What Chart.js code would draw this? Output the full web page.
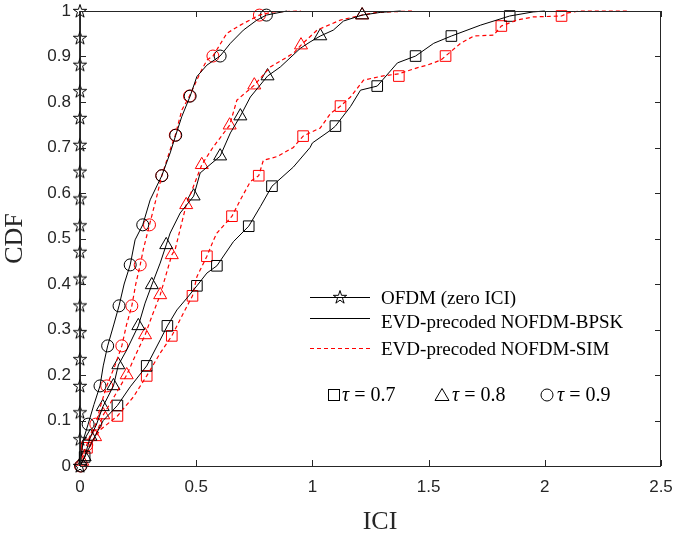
<!DOCTYPE html>
<html>
<head>
<meta charset="utf-8">
<script src="https://cdn.jsdelivr.net/npm/chart.js@4.4.0/dist/chart.umd.min.js"></script>
<style>
  html, body { margin: 0; padding: 0; background: #fff; }
</style>
</head>
<body>
<canvas id="cdf" width="673" height="535"></canvas>
<script>
// ----------------------------------------------------
//                 DATA
// ----------------------------------------------------
const xTicks = [0, 0.5, 1, 1.5, 2, 2.5];
const yTicks = [0, 0.1, 0.2, 0.3, 0.4, 0.5, 0.6, 0.7, 0.8, 0.9, 1];

// OFDM (zero ICI): vertical line at 0, star every 1/17
const ofdmY = [0, 0.059, 0.118, 0.176, 0.235, 0.294, 0.353, 0.412, 0.471, 0.529,
               0.588, 0.647, 0.706, 0.765, 0.824, 0.882, 0.941, 1];

// EVD-precoded NOFDM-BPSK (black, solid)
const bpsk07 = [[0,0],[0.02,0.02],[0.056,0.057],[0.1,0.1],[0.161,0.133],[0.216,0.174],[0.287,0.22],
  [0.345,0.277],[0.376,0.308],[0.417,0.343],[0.46,0.369],[0.503,0.396],[0.546,0.424],[0.589,0.44],
  [0.66,0.493],[0.726,0.527],[0.776,0.57],[0.826,0.615],[0.918,0.657],[0.99,0.7],[1.0,0.71],
  [1.078,0.738],[1.099,0.747],[1.164,0.79],[1.207,0.826],[1.279,0.835],[1.366,0.886],[1.444,0.901],
  [1.522,0.929],[1.598,0.945],[1.724,0.969],[1.849,0.989],[1.95,0.998],[2.0,1.0]];
const bpsk07Mk = [[0.02,0.02],[0.161,0.133],[0.287,0.22],[0.376,0.308],[0.503,0.396],[0.589,0.44],
  [0.726,0.527],[0.826,0.615],[1.099,0.747],[1.279,0.835],[1.444,0.901],[1.598,0.945],[1.849,0.989]];

const bpsk08 = [[0,0],[0.02,0.02],[0.045,0.065],[0.07,0.09],[0.098,0.13],[0.144,0.176],[0.165,0.222],
  [0.201,0.255],[0.251,0.308],[0.28,0.358],[0.309,0.398],[0.345,0.446],[0.371,0.486],[0.388,0.512],
  [0.431,0.556],[0.489,0.593],[0.517,0.644],[0.603,0.681],[0.647,0.732],[0.69,0.769],[0.733,0.811],
  [0.807,0.857],[0.862,0.877],[0.948,0.918],[0.99,0.932],[1.034,0.945],[1.09,0.958],[1.134,0.978],
  [1.214,0.991],[1.293,0.997],[1.38,1.0]];
const bpsk08Mk = [[0.02,0.02],[0.045,0.065],[0.098,0.13],[0.144,0.176],[0.165,0.222],[0.251,0.308],
  [0.309,0.398],[0.371,0.486],[0.489,0.593],[0.603,0.681],[0.69,0.769],[0.807,0.857],[1.034,0.945],[1.214,0.991]];

const bpsk09 = [[0,0],[0.005,0.02],[0.014,0.057],[0.035,0.092],[0.06,0.135],[0.086,0.176],[0.1,0.22],
  [0.119,0.264],[0.145,0.31],[0.168,0.352],[0.19,0.4],[0.216,0.442],[0.237,0.497],[0.27,0.53],
  [0.302,0.585],[0.352,0.638],[0.388,0.688],[0.412,0.727],[0.438,0.768],[0.474,0.813],[0.503,0.856],
  [0.546,0.881],[0.603,0.901],[0.647,0.929],[0.703,0.958],[0.761,0.98],[0.802,0.991],[0.89,1.0]];
const bpsk09Mk = [[0.004,0],[0.035,0.092],[0.086,0.176],[0.119,0.264],[0.168,0.352],[0.216,0.442],
  [0.27,0.53],[0.352,0.638],[0.412,0.727],[0.474,0.813],[0.603,0.901],[0.802,0.991]];

// EVD-precoded NOFDM-SIM (red, dashed)
const sim07 = [[0,0],[0.02,0.02],[0.05,0.05],[0.086,0.079],[0.161,0.11],[0.23,0.152],[0.287,0.198],
  [0.345,0.248],[0.395,0.286],[0.445,0.336],[0.484,0.374],[0.503,0.416],[0.546,0.461],[0.575,0.497],
  [0.589,0.512],[0.654,0.549],[0.69,0.585],[0.733,0.625],[0.769,0.638],[0.789,0.672],[0.848,0.68],
  [0.918,0.7],[0.96,0.725],[1.034,0.743],[1.078,0.775],[1.121,0.791],[1.164,0.811],[1.22,0.848],
  [1.3,0.857],[1.372,0.862],[1.45,0.875],[1.494,0.881],[1.552,0.892],[1.573,0.901],[1.638,0.929],
  [1.694,0.945],[1.78,0.947],[1.813,0.967],[1.88,0.98],[1.95,0.987],[2.072,0.989],[2.1,0.996],
  [2.15,1.0],[2.36,1.0]];
const sim07Mk = [[0.03,0.04],[0.161,0.11],[0.287,0.198],[0.395,0.286],[0.484,0.374],[0.546,0.461],
  [0.654,0.549],[0.769,0.638],[0.96,0.725],[1.121,0.791],[1.372,0.857],[1.573,0.901],[1.813,0.967],[2.072,0.989]];

const sim08 = [[0,0],[0.02,0.02],[0.04,0.045],[0.065,0.064],[0.1,0.112],[0.15,0.155],[0.201,0.2],
  [0.24,0.245],[0.28,0.288],[0.31,0.33],[0.345,0.376],[0.37,0.42],[0.395,0.464],[0.41,0.477],
  [0.457,0.574],[0.487,0.613],[0.524,0.662],[0.573,0.701],[0.644,0.749],[0.675,0.804],[0.75,0.837],
  [0.819,0.877],[0.918,0.907],[0.951,0.925],[1.02,0.958],[1.12,0.98],[1.214,0.991],[1.28,0.997],[1.435,1.0]];
const sim08Mk = [[0.01,0.01],[0.065,0.064],[0.1,0.112],[0.201,0.2],[0.28,0.288],[0.345,0.376],
  [0.395,0.464],[0.457,0.574],[0.524,0.662],[0.644,0.749],[0.75,0.837],[0.951,0.925],[1.214,0.991]];

const sim09 = [[0,0],[0.01,0.02],[0.029,0.046],[0.045,0.07],[0.068,0.092],[0.09,0.135],[0.115,0.176],
  [0.15,0.22],[0.18,0.264],[0.2,0.31],[0.223,0.352],[0.24,0.4],[0.259,0.442],[0.273,0.477],[0.299,0.53],
  [0.33,0.592],[0.352,0.638],[0.388,0.695],[0.41,0.727],[0.438,0.782],[0.471,0.813],[0.517,0.864],
  [0.546,0.892],[0.572,0.901],[0.632,0.951],[0.69,0.969],[0.772,0.991],[0.83,0.998],[0.95,1.0]];
const sim09Mk = [[0.002,0],[0.029,0.046],[0.068,0.092],[0.115,0.176],[0.18,0.264],[0.223,0.352],
  [0.259,0.442],[0.299,0.53],[0.352,0.638],[0.41,0.727],[0.471,0.813],[0.572,0.901],[0.772,0.991]];

// ----------------------------------------------------
//                 helpers
// ----------------------------------------------------
const AX = '#262626';
const RED = '#ff0000';

function makeStar(size) {
  const c = document.createElement('canvas');
  c.width = c.height = size;
  const g = c.getContext('2d');
  const R = size / 2 - 1, r = R * 0.382, cx = size / 2, cy = size / 2 + 0.5;
  g.beginPath();
  for (let i = 0; i < 10; i++) {
    const a = -Math.PI / 2 + i * Math.PI / 5;
    const rr = i % 2 ? r : R;
    g.lineTo(cx + rr * Math.cos(a), cy + rr * Math.sin(a));
  }
  g.closePath();
  g.strokeStyle = '#000';
  g.lineWidth = 1;
  g.stroke();
  return c;
}
const star = makeStar(16);

const pts = arr => arr.map(p => ({ x: p[0], y: p[1] }));
const fmt = v => String(Math.round(v * 10) / 10);

function curve(data, color, dashed) {
  return {
    data: pts(data), showLine: true, borderColor: color, borderWidth: dashed ? 1.2 : 1,
    borderDash: dashed ? [4, 3] : [], pointRadius: 0, tension: 0, clip: false
  };
}
function marks(data, color, style, radius) {
  return {
    data: pts(data), showLine: false, pointStyle: style, pointRadius: radius,
    pointBorderColor: color, pointBackgroundColor: 'rgba(0,0,0,0)', pointBorderWidth: 1, clip: false
  };
}

// ----------------------------------------------------
//                 axes box, inner ticks, legend
// ----------------------------------------------------
const matlabAxes = {
  id: 'matlabAxes',
  afterDraw(chart) {
    const { ctx, chartArea: a, scales: { x, y } } = chart;
    ctx.save();
    ctx.strokeStyle = AX;
    ctx.lineWidth = 1;
    ctx.strokeRect(a.left + 0.5, a.top + 0.5, a.right - a.left - 1, a.bottom - a.top);
    ctx.beginPath();
    xTicks.forEach(v => {
      const px = Math.round(x.getPixelForValue(v)) + 0.5;
      ctx.moveTo(px, a.bottom); ctx.lineTo(px, a.bottom - 6);
      ctx.moveTo(px, a.top); ctx.lineTo(px, a.top + 6);
    });
    yTicks.forEach(v => {
      const py = Math.round(y.getPixelForValue(v)) + 0.5;
      ctx.moveTo(a.left, py); ctx.lineTo(a.left + 6, py);
      ctx.moveTo(a.right, py); ctx.lineTo(a.right - 6, py);
    });
    ctx.stroke();

    // x axis label
    ctx.fillStyle = AX;
    ctx.font = '26px "Liberation Serif"';
    ctx.textAlign = 'center';
    ctx.textBaseline = 'alphabetic';
    ctx.fillText('ICI', 380, 529);
    ctx.textAlign = 'left';

    // legend
    ctx.fillStyle = '#000';
    ctx.strokeStyle = '#000';
    ctx.font = '19px "Liberation Serif"';
    ctx.beginPath(); ctx.moveTo(310, 297.5); ctx.lineTo(370, 297.5); ctx.stroke();
    ctx.drawImage(star, 340 - 8, 297 - 8);
    ctx.fillText('OFDM (zero ICI)', 381, 304);

    ctx.beginPath(); ctx.moveTo(310, 318.5); ctx.lineTo(370, 318.5); ctx.stroke();
    ctx.fillText('EVD-precoded NOFDM-BPSK', 381, 328);

    ctx.strokeStyle = RED; ctx.lineWidth = 1.2; ctx.setLineDash([4, 3]);
    ctx.beginPath(); ctx.moveTo(310, 348.5); ctx.lineTo(370, 348.5); ctx.stroke();
    ctx.setLineDash([]);
    ctx.fillText('EVD-precoded NOFDM-SIM', 381, 355);

    // tau row
    ctx.strokeStyle = '#000'; ctx.lineWidth = 1;
    ctx.strokeRect(328.5, 389.5, 11, 11);
    ctx.beginPath();
    ctx.moveTo(442, 388.5); ctx.lineTo(449, 400.5); ctx.lineTo(435, 400.5); ctx.closePath(); ctx.stroke();
    ctx.beginPath(); ctx.arc(547, 395, 6, 0, Math.PI * 2); ctx.stroke();
    [['0.7', 342], ['0.8', 452], ['0.9', 557]].forEach(([v, tx]) => {
      ctx.font = 'italic 20px "Liberation Serif"';
      ctx.fillText('\u03c4', tx, 401);
      const w = ctx.measureText('\u03c4').width;
      ctx.font = '20px "Liberation Serif"';
      ctx.fillText(' = ' + v, tx + w, 401);
    });
    ctx.restore();
  }
};

// ----------------------------------------------------
//                 chart
// ----------------------------------------------------
new Chart(document.getElementById('cdf'), {
  type: 'scatter',
  data: {
    datasets: [
      { data: ofdmY.map(v => ({ x: 0, y: v })), showLine: true, borderColor: '#000', borderWidth: 1.6,
        pointStyle: star, pointRadius: 8, clip: false },
      curve(bpsk07, '#000', false),
      curve(bpsk08, '#000', false),
      curve(bpsk09, '#000', false),
      curve(sim07, RED, true),
      curve(sim08, RED, true),
      curve(sim09, RED, true),
      marks(bpsk07Mk, '#000', 'rect', 7.5),
      marks(bpsk08Mk, '#000', 'triangle', 7.5),
      marks(bpsk09Mk, '#000', 'circle', 6),
      marks(sim07Mk, RED, 'rect', 7.5),
      marks(sim08Mk, RED, 'triangle', 7.5),
      marks(sim09Mk, RED, 'circle', 6)
    ]
  },
  options: {
    responsive: false,
    animation: false,
    layout: { padding: { left: 0, right: 12, top: 11, bottom: 0 } },
    plugins: { legend: { display: false }, tooltip: { enabled: false } },
    scales: {
      x: {
        type: 'linear', min: 0, max: 2.5,
        afterBuildTicks: s => { s.ticks = xTicks.map(v => ({ value: v })); },
        afterFit: s => { s.height = 69; s.paddingLeft = 0; s.paddingRight = 0; },
        grid: { display: false, drawTicks: false },
        border: { display: false },
        ticks: { color: AX, padding: 11, callback: fmt, font: { family: 'Liberation Sans', size: 17 } }
      },
      y: {
        type: 'linear', min: 0, max: 1,
        afterBuildTicks: s => { s.ticks = yTicks.map(v => ({ value: v })); },
        afterFit: s => { s.width = 80; s.paddingTop = 0; s.paddingBottom = 0; },
        grid: { display: false, drawTicks: false },
        border: { display: false },
        ticks: { color: AX, padding: 9, callback: fmt, font: { family: 'Liberation Sans', size: 17 } },
        title: { display: true, text: 'CDF', color: AX, padding: { top: 0, bottom: 0 },
                 font: { family: 'Liberation Serif', size: 26 } }
      }
    }
  },
  plugins: [matlabAxes]
});
</script>
</body>
</html>
